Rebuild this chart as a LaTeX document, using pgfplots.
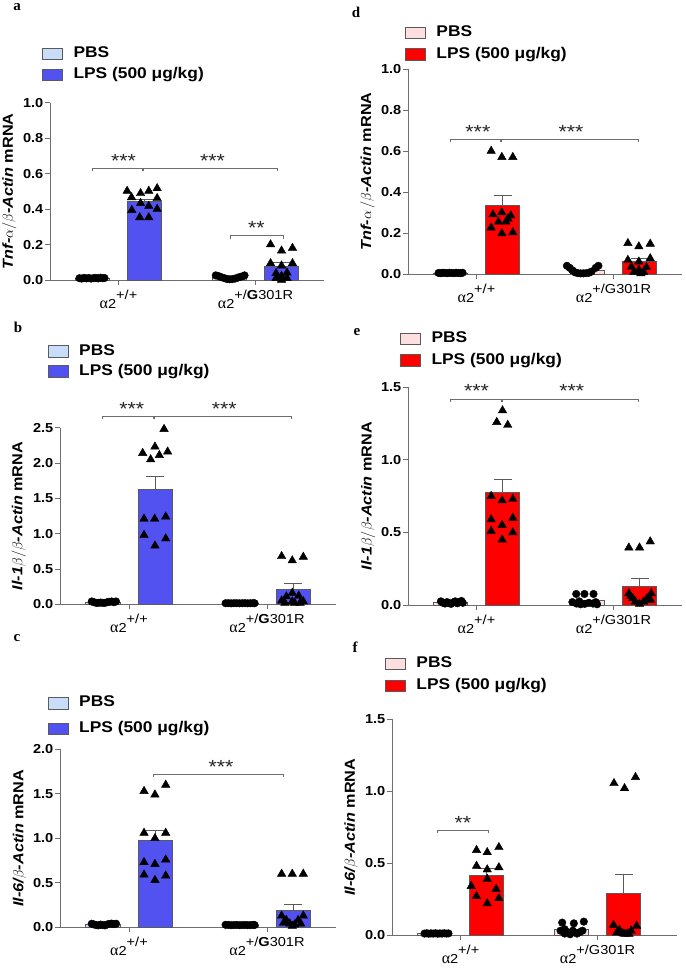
\documentclass[border=0pt]{standalone}
\usepackage{pgfplots}
\pgfplotsset{compat=1.18}
\usepackage{fontspec}
\setmainfont{Liberation Sans}[FakeStretch=1.12]
\newfontfamily\grk{Liberation Serif}
\newfontfamily\letfont{Liberation Serif}
\definecolor{pbsblue}{RGB}{200,222,248}
\definecolor{lpsblue}{RGB}{82,82,240}
\definecolor{pbsred}{RGB}{255,222,224}
\definecolor{lpsred}{RGB}{255,0,0}
\definecolor{axgray}{RGB}{110,110,110}
\definecolor{bargray}{RGB}{90,90,90}
\pgfplotsset{
 panel/.style={scale only axis, axis lines=left, axis line style={-, axgray, line width=0.9pt},
  tick style={axgray, line width=0.9pt}, major tick length=5pt, tick align=outside,
  xtick={0,1}, ymin=0, enlargelimits=false, clip=false, xmin=-0.5, xmax=1.5,
  yticklabel style={font=\bfseries\fontsize{13}{13}\selectfont, inner xsep=1.5pt,
    /pgf/number format/.cd, fixed, fixed zerofill, precision=1, assume math mode=true},
  xticklabel style={font=\fontsize{13}{13}\selectfont, anchor=north, inner ysep=2pt, yshift=-3pt},
  legend cell align=left,
  legend style={draw=none, fill=none, inner sep=0pt, anchor=north west,
    font=\bfseries\fontsize{15.5}{15.5}\selectfont,
    nodes={inner sep=0pt, text height=11pt, text depth=3.5pt}, column sep=10.5pt},
  legend image code/.code={\draw[#1, line width=0.8pt] (0pt,-5.75pt) rectangle (20pt,5.75pt);},
  ylabel style={font=\bfseries\fontsize{14.5}{14.5}\selectfont, anchor=center}},
 dots/.style={only marks, mark=*, mark size=3.8pt, black, forget plot},
 tris/.style={only marks, mark=triangle*, mark size=4.9pt, black, forget plot},
 bar/.style={ybar, bar width=0.25, bar shift=0pt, fill=#1, draw=bargray, line width=0.8pt, forget plot},
 ebar/.style={error bars/y dir=plus, error bars/y explicit,
   error bars/error bar style={bargray, line width=0.8pt},
   error bars/error mark options={bargray, rotate=90, mark size=9pt, line width=0.8pt}}
}
\newcommand{\br}[3]{\draw[axgray, line width=0.8pt] ([yshift=-3pt]axis cs:#1,#3) -- (axis cs:#1,#3) -- (axis cs:#2,#3) -- ([yshift=-3pt]axis cs:#2,#3);}
\newcommand{\st}[3]{\node[anchor=base, yshift=1pt, inner sep=0pt, font=\fontsize{19}{19}\selectfont, text=black!85] at (axis cs:#1,#2) {#3};}
\newcommand{\ga}{{\grk\fontsize{16}{16}\selectfont α}}
\newcommand{\wt}{\ga2\raisebox{9pt}{+/+}}
\newcommand{\mtb}{\ga2\raisebox{9pt}{+/\textbf{G}301R}}
\newcommand{\mtr}{\ga2\raisebox{9pt}{+/G301R}}
\begin{document}
\begin{tikzpicture}
\useasboundingbox (0pt,0pt) rectangle (685pt,968pt);
\node[font=\letfont\bfseries\fontsize{15}{15}\selectfont] at (17pt,961pt) {a};
\node[font=\letfont\bfseries\fontsize{15}{15}\selectfont] at (18pt,641pt) {b};
\node[font=\letfont\bfseries\fontsize{15}{15}\selectfont] at (17pt,330pt) {c};
\node[font=\letfont\bfseries\fontsize{15}{15}\selectfont] at (356pt,956pt) {d};
\node[font=\letfont\bfseries\fontsize{15}{15}\selectfont] at (357pt,636pt) {e};
\node[font=\letfont\bfseries\fontsize{15}{15}\selectfont] at (355pt,321pt) {f};

% ---------------- panel a
\begin{axis}[panel, at={(50pt,688pt)}, anchor=south west, width=274pt, height=177.3pt,
  ymax=1, ytick={0,0.2,...,1.0}, xticklabels={\wt,\mtb},
  ylabel={{\itshape Tnf-}$\alpha/\beta${\itshape -Actin} mRNA},
  ylabel style={at={(axis description cs:-0.149,0.5)}},
  legend style={at={(axis description cs:-0.029,1.318)}, row sep=6.7pt}]
\addlegendimage{fill=pbsblue, draw=bargray}\addlegendentry{PBS}
\addlegendimage{fill=lpsblue, draw=bargray}\addlegendentry{LPS (500 μg/kg)}
\addplot[bar=pbsblue] coordinates {(-0.19,0.010)};
\addplot[bar=lpsblue, ebar] coordinates {(0.19,0.442) +- (0,0.015)};
\addplot[bar=pbsblue] coordinates {(0.81,0.012)};
\addplot[bar=lpsblue, ebar] coordinates {(1.19,0.079) +- (0,0.021)};
\addplot[dots] coordinates {(-0.285,0.010)(-0.268,0.008)(-0.251,0.012)(-0.234,0.009)(-0.217,0.011)(-0.200,0.008)(-0.183,0.010)(-0.166,0.012)(-0.149,0.009)(-0.132,0.013)(-0.115,0.010)(-0.102,0.011)};
\addplot[dots] coordinates {(0.71,0.026)(0.73,0.022)(0.75,0.016)(0.77,0.011)(0.79,0.006)(0.81,0.004)(0.83,0.005)(0.85,0.008)(0.87,0.013)(0.89,0.018)(0.91,0.022)(0.92,0.026)};
\addplot[tris] coordinates {(0.063,0.502)(0.095,0.466)(0.161,0.489)(0.221,0.502)(0.282,0.517)(0.161,0.433)(0.221,0.417)(0.282,0.461)(0.097,0.394)(0.282,0.400)(0.155,0.353)(0.221,0.353)};
\addplot[tris] coordinates {(1.11,0.200)(1.19,0.165)(1.27,0.180)(1.11,0.094)(1.19,0.081)(1.27,0.094)(1.15,0.038)(1.19,0.023)(1.23,0.041)(1.15,0.010)(1.19,0.000)(1.23,0.010)};
\br{-0.19}{0.175}{0.63}\br{0.185}{1.16}{0.63}\br{0.82}{1.20}{0.25}
\st{0.036}{0.63}{***}\st{0.686}{0.63}{***}\st{1.007}{0.25}{**}
\end{axis}

% ---------------- panel b
\begin{axis}[panel, at={(60pt,363.7pt)}, anchor=south west, width=276pt, height=176.6pt,
  ymax=2.5, ytick={0,0.5,...,2.5}, xticklabels={\wt,\mtb},
  ylabel={{\itshape Il-1}$\beta/\beta${\itshape -Actin} mRNA},
  ylabel style={at={(axis description cs:-0.149,0.5)}},
  legend style={at={(axis description cs:-0.0446,1.474)}, row sep=5.5pt}]
\addlegendimage{fill=pbsblue, draw=bargray}\addlegendentry{PBS}
\addlegendimage{fill=lpsblue, draw=bargray}\addlegendentry{LPS (500 μg/kg)}
\addplot[bar=pbsblue] coordinates {(-0.19,0.025)};
\addplot[bar=lpsblue, ebar] coordinates {(0.19,1.63) +- (0,0.186)};
\addplot[bar=pbsblue] coordinates {(0.81,0.015)};
\addplot[bar=lpsblue, ebar] coordinates {(1.19,0.212) +- (0,0.088)};
\addplot[dots] coordinates {(-0.270,0.040)(-0.254,0.030)(-0.238,0.020)(-0.222,0.020)(-0.206,0.025)(-0.190,0.020)(-0.174,0.020)(-0.158,0.030)(-0.142,0.035)(-0.126,0.040)(-0.110,0.030)(-0.094,0.040)};
\addplot[dots] coordinates {(0.70,0.015)(0.72,0.016)(0.74,0.014)(0.76,0.015)(0.78,0.016)(0.80,0.014)(0.82,0.015)(0.84,0.016)(0.86,0.014)(0.88,0.015)(0.90,0.016)(0.91,0.015)};
\addplot[tris] coordinates {(0.254,2.48)(0.188,2.23)(0.099,2.14)(0.280,2.16)(0.157,2.05)(0.220,2.11)(0.109,1.21)(0.186,1.21)(0.266,1.24)(0.109,0.98)(0.266,0.93)(0.188,0.83)};
\addplot[tris] coordinates {(1.106,0.68)(1.183,0.62)(1.263,0.67)(1.183,0.16)(1.140,0.11)(1.230,0.12)(1.106,0.05)(1.183,0.04)(1.263,0.04)(1.130,0.02)(1.200,0.02)(1.240,0.02)};
\br{-0.19}{0.174}{2.66}\br{0.184}{1.18}{2.66}
\st{0.02}{2.66}{***}\st{0.69}{2.66}{***}
\end{axis}

% ---------------- panel c
\begin{axis}[panel, at={(60pt,40.7pt)}, anchor=south west, width=276pt, height=178pt,
  ymax=2.0, ytick={0,0.5,...,2.0}, xticklabels={\wt,\mtb},
  ylabel={{\itshape Il-6/}$\beta${\itshape -Actin} mRNA},
  ylabel style={at={(axis description cs:-0.147,0.5)}},
  legend style={at={(axis description cs:-0.0446,1.301)}, row sep=11pt}]
\addlegendimage{fill=pbsblue, draw=bargray}\addlegendentry{PBS}
\addlegendimage{fill=lpsblue, draw=bargray}\addlegendentry{LPS (500 μg/kg)}
\addplot[bar=pbsblue] coordinates {(-0.19,0.030)};
\addplot[bar=lpsblue, ebar] coordinates {(0.19,0.98) +- (0,0.106)};
\addplot[bar=pbsblue] coordinates {(0.81,0.025)};
\addplot[bar=lpsblue, ebar] coordinates {(1.19,0.195) +- (0,0.065)};
\addplot[dots] coordinates {(-0.270,0.040)(-0.254,0.032)(-0.238,0.025)(-0.222,0.022)(-0.206,0.030)(-0.190,0.025)(-0.174,0.022)(-0.158,0.032)(-0.142,0.038)(-0.126,0.042)(-0.110,0.035)(-0.094,0.040)};
\addplot[dots] coordinates {(0.70,0.028)(0.72,0.026)(0.74,0.024)(0.76,0.025)(0.78,0.026)(0.80,0.024)(0.82,0.025)(0.84,0.026)(0.86,0.024)(0.88,0.025)(0.90,0.027)(0.91,0.026)};
\addplot[tris] coordinates {(0.109,1.53)(0.188,1.49)(0.266,1.60)(0.109,1.06)(0.266,1.06)(0.188,1.00)(0.109,0.73)(0.188,0.71)(0.266,0.76)(0.109,0.59)(0.266,0.58)(0.188,0.53)};
\addplot[tris] coordinates {(1.106,0.60)(1.183,0.60)(1.263,0.60)(1.106,0.13)(1.263,0.13)(1.140,0.08)(1.225,0.08)(1.165,0.04)(1.200,0.03)(1.120,0.05)(1.245,0.04)(1.183,0.015)};
\br{0.174}{1.116}{1.72}
\st{0.667}{1.72}{***}
\end{axis}

% ---------------- panel d
\begin{axis}[panel, at={(408pt,694pt)}, anchor=south west, width=274pt, height=205pt,
  ymax=1, ytick={0,0.2,...,1.0}, xticklabels={\wt,\mtr},
  ylabel={{\itshape Tnf-}$\alpha\,/\beta${\itshape -Actin} mRNA},
  ylabel style={at={(axis description cs:-0.148,0.5)}},
  legend style={at={(axis description cs:-0.011,1.213)}, row sep=7.2pt}]
\addlegendimage{fill=pbsred, draw=bargray}\addlegendentry{PBS}
\addlegendimage{fill=lpsred, draw=bargray}\addlegendentry{LPS (500 μg/kg)}
\addplot[bar=pbsred] coordinates {(-0.19,0.005)};
\addplot[bar=lpsred, ebar] coordinates {(0.19,0.337) +- (0,0.045)};
\addplot[bar=pbsred] coordinates {(0.81,0.016)};
\addplot[bar=lpsred, ebar] coordinates {(1.19,0.063) +- (0,0.012)};
\addplot[dots] coordinates {(-0.277,0.005)(-0.261,0.004)(-0.245,0.006)(-0.229,0.005)(-0.213,0.004)(-0.197,0.006)(-0.181,0.005)(-0.165,0.004)(-0.149,0.006)(-0.133,0.005)(-0.117,0.004)(-0.102,0.006)};
\addplot[dots] coordinates {(0.66,0.040)(0.68,0.030)(0.70,0.018)(0.72,0.008)(0.74,0.004)(0.76,0.003)(0.78,0.003)(0.80,0.004)(0.82,0.006)(0.84,0.012)(0.87,0.030)(0.89,0.040)};
\addplot[tris] coordinates {(0.107,0.60)(0.185,0.57)(0.265,0.57)(0.120,0.29)(0.185,0.30)(0.250,0.285)(0.160,0.255)(0.215,0.255)(0.107,0.226)(0.185,0.198)(0.265,0.203)(0.230,0.27)};
\addplot[tris] coordinates {(1.105,0.150)(1.185,0.134)(1.268,0.147)(1.105,0.068)(1.185,0.060)(1.268,0.076)(1.130,0.035)(1.185,0.020)(1.240,0.033)(1.150,0.010)(1.200,0.003)(1.220,0.010)};
\br{-0.19}{0.175}{0.657}\br{0.185}{1.18}{0.657}
\st{0.01}{0.657}{***}\st{0.69}{0.657}{***}
\end{axis}

% ---------------- panel e
\begin{axis}[panel, at={(408pt,363pt)}, anchor=south west, width=274pt, height=217.7pt,
  ymax=1.5, ytick={0,0.5,...,1.5}, xticklabels={\wt,\mtr},
  ylabel={{\itshape Il-1}$\beta/\beta${\itshape -Actin} mRNA},
  ylabel style={at={(axis description cs:-0.146,0.5)}},
  legend style={at={(axis description cs:-0.029,1.257)}, row sep=7.3pt}]
\addlegendimage{fill=pbsred, draw=bargray}\addlegendentry{PBS}
\addlegendimage{fill=lpsred, draw=bargray}\addlegendentry{LPS (500 μg/kg)}
\addplot[bar=pbsred] coordinates {(-0.19,0.015)};
\addplot[bar=lpsred, ebar] coordinates {(0.19,0.774) +- (0,0.092)};
\addplot[bar=pbsred] coordinates {(0.81,0.030)};
\addplot[bar=lpsred, ebar] coordinates {(1.19,0.131) +- (0,0.053)};
\addplot[dots] coordinates {(-0.260,0.025)(-0.245,0.015)(-0.230,0.010)(-0.215,0.020)(-0.200,0.012)(-0.185,0.008)(-0.170,0.018)(-0.155,0.025)(-0.140,0.012)(-0.125,0.020)(-0.110,0.028)(-0.100,0.015)};
\addplot[dots] coordinates {(0.728,0.076)(0.788,0.076)(0.854,0.076)(0.700,0.020)(0.730,0.010)(0.760,0.005)(0.790,0.008)(0.820,0.015)(0.850,0.010)(0.870,0.020)(0.880,0.005)(0.750,0.025)};
\addplot[tris] coordinates {(0.190,1.34)(0.148,1.26)(0.228,1.24)(0.107,0.75)(0.187,0.72)(0.265,0.73)(0.107,0.59)(0.265,0.60)(0.107,0.51)(0.187,0.55)(0.265,0.50)(0.187,0.45)};
\addplot[tris] coordinates {(1.112,0.395)(1.190,0.395)(1.268,0.437)(1.112,0.080)(1.275,0.080)(1.140,0.046)(1.245,0.046)(1.160,0.023)(1.220,0.023)(1.190,0.007)(1.125,0.060)(1.270,0.035)};
\br{-0.19}{0.18}{1.42}\br{0.19}{1.18}{1.42}
\st{0.0}{1.42}{***}\st{0.696}{1.42}{***}
\end{axis}

% ---------------- panel f
\begin{axis}[panel, at={(392pt,33pt)}, anchor=south west, width=285pt, height=215.7pt,
  xmax=1.58, ymax=1.5, ytick={0,0.5,...,1.5}, xticklabels={\wt,\mtr},
  ylabel={{\itshape Il-6/}$\beta${\itshape -Actin} mRNA},
  ylabel style={at={(axis description cs:-0.144,0.5)}},
  legend style={at={(axis description cs:-0.0246,1.292)}, row sep=7.5pt}]
\addlegendimage{fill=pbsred, draw=bargray}\addlegendentry{PBS}
\addlegendimage{fill=lpsred, draw=bargray}\addlegendentry{LPS (500 μg/kg)}
\addplot[bar=pbsred] coordinates {(-0.19,0.010)};
\addplot[bar=lpsred, ebar] coordinates {(0.19,0.417) +- (0,0.047)};
\addplot[bar=pbsred] coordinates {(0.81,0.040)};
\addplot[bar=lpsred, ebar] coordinates {(1.19,0.290) +- (0,0.132)};
\addplot[dots] coordinates {(-0.263,0.010)(-0.247,0.012)(-0.231,0.009)(-0.215,0.011)(-0.199,0.010)(-0.183,0.012)(-0.167,0.009)(-0.151,0.011)(-0.135,0.010)(-0.119,0.012)(-0.103,0.010)(-0.088,0.011)};
\addplot[dots] coordinates {(0.742,0.086)(0.827,0.081)(0.900,0.093)(0.730,0.030)(0.760,0.010)(0.780,0.020)(0.800,0.005)(0.820,0.030)(0.850,0.010)(0.870,0.020)(0.890,0.030)(0.760,0.040)};
\addplot[tris] coordinates {(0.117,0.59)(0.195,0.575)(0.280,0.61)(0.117,0.48)(0.195,0.455)(0.280,0.47)(0.078,0.34)(0.195,0.39)(0.117,0.27)(0.280,0.255)(0.195,0.22)(0.260,0.32)};
\addplot[tris] coordinates {(1.120,1.055)(1.197,1.020)(1.277,1.097)(1.117,0.070)(1.285,0.063)(1.160,0.035)(1.245,0.030)(1.185,0.010)(1.220,0.010)(1.200,0.007)(1.230,0.007)(1.140,0.016)};
\br{-0.17}{0.20}{0.73}
\st{0.017}{0.73}{**}
\end{axis}
\end{tikzpicture}
\end{document}
